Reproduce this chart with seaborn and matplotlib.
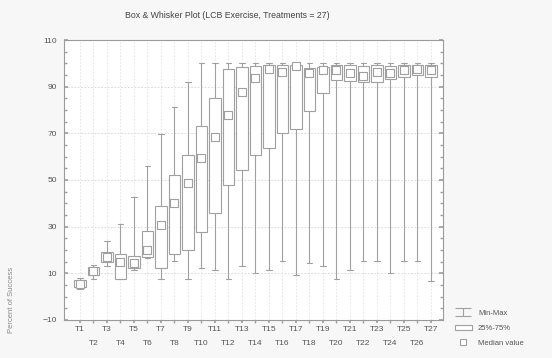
import numpy as np
import pandas as pd
import matplotlib
matplotlib.use("Agg")
import matplotlib.pyplot as plt
import seaborn as sns
from matplotlib.path import Path
from matplotlib.lines import Line2D
from matplotlib.patches import Patch
from matplotlib.ticker import MultipleLocator

categories = [f"T{i}" for i in range(1, 28)]
mins = [3.5, 7.6, 13.1, 7.6, 11.4, 16.6, 7.4, 15.4, 7.4, 12.1, 11.4, 7.6, 13.1, 10.3,
        11.4, 15.4, 9.3, 14.3, 13.1, 7.4, 11.4, 15.4, 15.4, 10.3, 15.4, 15.4, 6.9]
q1s = [4.2, 9.3, 14.9, 7.6, 12.3, 17.1, 12.1, 18.3, 20.0, 27.9, 35.7, 47.9, 54.3, 60.7,
       63.6, 70.0, 71.7, 79.7, 87.1, 92.9, 92.6, 92.1, 92.0, 93.1, 94.3, 95.0, 94.0]
meds = [5.5, 11.0, 17.0, 15.0, 14.5, 20.0, 30.7, 40.3, 48.6, 59.3, 68.3, 77.9, 87.9, 93.6,
        97.5, 96.4, 98.8, 95.7, 97.0, 97.0, 95.7, 94.6, 96.4, 95.7, 97.1, 97.4, 97.1]
q3s = [7.0, 12.7, 19.1, 18.3, 17.4, 28.3, 38.9, 52.1, 60.7, 73.1, 85.0, 97.4, 98.3, 98.9,
       99.5, 99.3, 99.3, 97.9, 98.6, 99.5, 99.5, 99.0, 99.5, 99.0, 99.5, 99.5, 99.3]
maxs = [8.0, 13.5, 23.9, 31.1, 42.9, 56.0, 69.7, 81.4, 92.1, 100, 100, 100, 100, 100,
        100, 100, 100, 100, 100, 100, 100, 100, 100, 100, 100, 100, 100]
title = "Box & Whisker Plot (LCB Exercise, Treatments = 27)"
ylabel = "Percent of Success"
legend_labels = ["Min-Max", "25%-75%", "Median value"]

rows = []
for c, a, b, m, d, e in zip(categories, mins, q1s, meds, q3s, maxs):
    for v in (a, b, m, d, e):
        rows.append((c, v))
df = pd.DataFrame(rows, columns=["Treatment", "Value"])

sns.set_theme(style="white")
plt.rcParams['font.family'] = ['Liberation Sans', 'DejaVu Sans']

edge = "#a0a0a0"
txt = "#555555"
fig = plt.figure(figsize=(5.52, 3.58), dpi=100, facecolor="#f7f7f7")
ax = fig.add_axes([64/552, 38/358, 379/552, 280/358])
ax.set_facecolor("white")

sns.boxplot(data=df, x="Treatment", y="Value", order=categories, whis=(0, 100),
            showfliers=False, width=0.85, color="white", linecolor=edge,
            linewidth=0.8, medianprops={"visible": False}, ax=ax)
sns.stripplot(x=categories, y=meds, order=categories, jitter=False, marker="s",
              size=5.5, color="white", edgecolor=edge, linewidth=0.8, ax=ax, zorder=5)

ax.set_xlim(-1.185, 26.89)
ax.set_ylim(-10, 110)
ax.set_yticks(range(-10, 111, 20))
ax.yaxis.set_minor_locator(MultipleLocator(5))
ax.set_xticks(range(0, 27, 2))
ax.set_xticklabels(categories[0::2])
ax.set_xticks(range(1, 27, 2), minor=True)
ax.set_xticklabels(categories[1::2], minor=True)
ax.tick_params(axis="x", which="major", pad=2, length=2, color=edge, labelsize=6, labelcolor=txt, bottom=True)
ax.tick_params(axis="x", which="minor", pad=12.5, length=2, color=edge, labelsize=6, labelcolor=txt, bottom=True)
ax.tick_params(axis="y", which="major", direction="in", length=3, pad=5, color=edge, labelsize=6, labelcolor=txt, left=True, right=True)
ax.tick_params(axis="y", which="minor", direction="in", length=2, color=edge, left=True, right=True)
ax.set_xlabel("")
ax.set_ylabel("")
ax.grid(True, axis="y", which="major", linestyle=(0, (2, 2)), color="#d4d4d4", lw=0.6)
ax.grid(True, axis="x", which="both", linestyle=(0, (2, 2)), color="#e0e0e0", lw=0.6)
ax.set_axisbelow(True)
for s in ax.spines.values():
    s.set_color("#9a9a9a")
    s.set_linewidth(0.8)

fig.text(227/552, 1 - 15/358, title, ha="center", va="center", fontsize=6.3, color="#444444")
fig.text(12/552, 1 - 300/358, ylabel, rotation=90, ha="center", va="center", fontsize=5.5, color="#888888")

ibeam = Path([(-1, 0.5), (1, 0.5), (0, 0.5), (0, -0.5), (-1, -0.5), (1, -0.5)],
             [Path.MOVETO, Path.LINETO, Path.MOVETO, Path.LINETO, Path.MOVETO, Path.LINETO])
handles = [
    Line2D([], [], marker=ibeam, linestyle="none", markersize=11, markeredgecolor=edge,
           markerfacecolor="none", markeredgewidth=0.8),
    Patch(facecolor="white", edgecolor=edge, linewidth=0.8),
    Line2D([], [], marker="s", linestyle="none", markersize=5, markerfacecolor="white",
           markeredgecolor=edge, markeredgewidth=0.8),
]
leg = fig.legend(handles, legend_labels, loc="lower left", bbox_to_anchor=(452/552, 8/358),
                 frameon=False, fontsize=5.5, handlelength=2.2, labelspacing=1.0,
                 handletextpad=0.8, borderaxespad=0)
for t in leg.get_texts():
    t.set_color(txt)

fig.savefig("out.png", dpi=100, facecolor=fig.get_facecolor())
